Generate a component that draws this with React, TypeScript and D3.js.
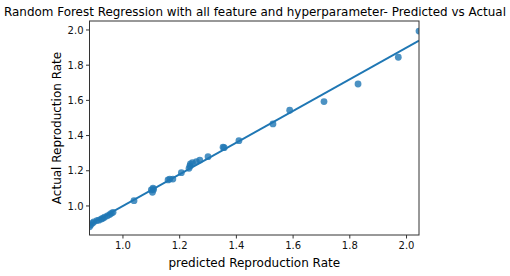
import React from "react";
import * as d3 from "d3";

const predicted = [0.882, 0.886, 0.892, 0.897, 0.908, 0.915, 0.924, 0.929, 0.935, 0.945, 0.953, 0.959, 0.965, 1.039, 1.100, 1.104, 1.106, 1.108, 1.159, 1.165, 1.176, 1.206, 1.233, 1.236, 1.238, 1.245, 1.259, 1.271, 1.300, 1.353, 1.357, 1.409, 1.529, 1.588, 1.709, 1.829, 1.971, 2.044];
const actual = [0.882, 0.892, 0.902, 0.909, 0.917, 0.919, 0.926, 0.930, 0.936, 0.944, 0.951, 0.958, 0.964, 1.030, 1.091, 1.078, 1.101, 1.094, 1.148, 1.153, 1.153, 1.189, 1.214, 1.227, 1.239, 1.246, 1.252, 1.261, 1.280, 1.334, 1.331, 1.371, 1.466, 1.544, 1.593, 1.693, 1.845, 1.994];
const xTicks = [1.0, 1.2, 1.4, 1.6, 1.8, 2.0];
const yTicks = [1.0, 1.2, 1.4, 1.6, 1.8, 2.0];
const title = "Random Forest Regression with all feature and hyperparameter- Predicted vs Actual";
const xLabel = "predicted Reproduction Rate";
const yLabel = "Actual Reproduction Rate";

const W = 510, H = 276;
const L = 89.5, R = 419, T = 21, B = 235;
const BLUE = "#1f77b4";
const FONT = "DejaVu Sans, sans-serif";

export default function App() {
  const x = d3.scaleLinear().domain([d3.min(predicted)!, d3.max(predicted)!]).range([L, R]);
  const y = d3.scaleLinear().domain([0.835, 2.051]).range([B, T]);

  const mx = d3.mean(predicted)!;
  const my = d3.mean(actual)!;
  let num = 0, den = 0;
  predicted.forEach((p, i) => { num += (p - mx) * (actual[i] - my); den += (p - mx) * (p - mx); });
  const slope = num / den;
  const intercept = my - slope * mx;
  const [x0, x1] = x.domain();
  const line = d3.line<number>().x((d) => x(d)).y((d) => y(slope * d + intercept));

  return (
    <svg width={W} height={H} style={{ position: "absolute", left: 0, top: 0, background: "#fff" }} fontFamily={FONT}>
      <rect x={0} y={0} width={W} height={H} fill="#fff" />
      <text x={255} y={16} textAnchor="middle" fontSize={11.6} fill="#000" textLength={502} lengthAdjust="spacingAndGlyphs">{title}</text>
      <defs>
        <clipPath id="plotclip"><rect x={L} y={T} width={R - L} height={B - T} /></clipPath>
      </defs>
      <g clipPath="url(#plotclip)">
        {predicted.map((p, i) => (
          <circle key={i} cx={x(p)} cy={y(actual[i])} r={3.4} fill={BLUE} fillOpacity={0.8} />
        ))}
        <path d={line([x0, x1]) || ""} stroke={BLUE} strokeWidth={1.8} fill="none" />
      </g>
      <rect x={L} y={T} width={R - L} height={B - T} fill="none" stroke="#333" strokeWidth={1} />
      {xTicks.map((t) => (
        <g key={"x" + t}>
          <line x1={x(t)} x2={x(t)} y1={B} y2={B + 3.5} stroke="#333" />
          <text x={x(t)} y={249} textAnchor="middle" fontSize={10} fill="#111">{t.toFixed(1)}</text>
        </g>
      ))}
      {yTicks.map((t) => (
        <g key={"y" + t}>
          <line x1={L - 3.5} x2={L} y1={y(t)} y2={y(t)} stroke="#333" />
          <text x={L - 6} y={y(t) + 3.6} textAnchor="end" fontSize={10} fill="#111">{t.toFixed(1)}</text>
        </g>
      ))}
      <text x={(L + R) / 2} y={267} textAnchor="middle" fontSize={12} fill="#000">{xLabel}</text>
      <text transform={`translate(61,${(T + B) / 2}) rotate(-90)`} textAnchor="middle" fontSize={12} fill="#000">{yLabel}</text>
    </svg>
  );
}
